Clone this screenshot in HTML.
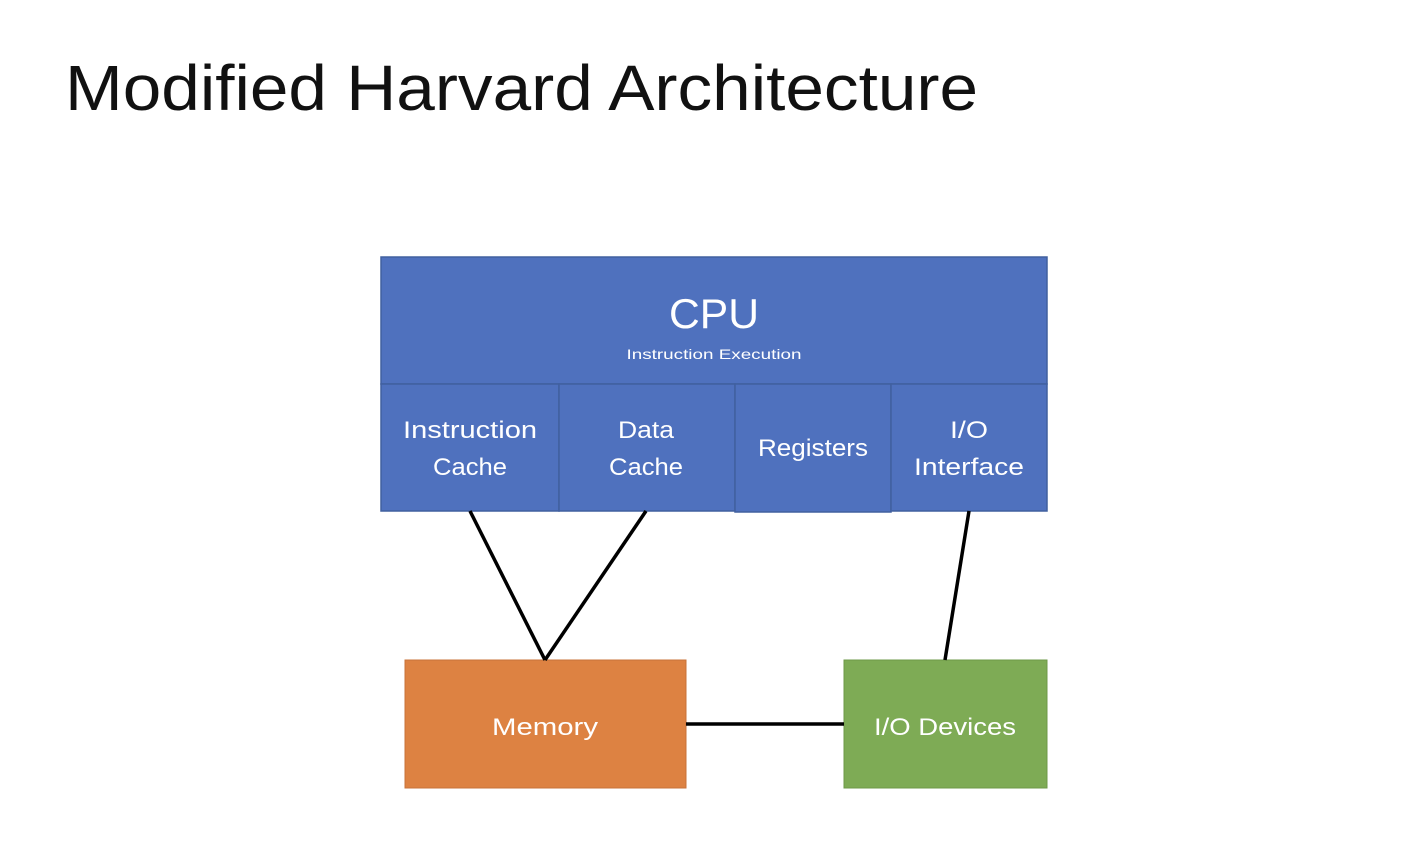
<!DOCTYPE html>
<html><head><style>
html,body{margin:0;padding:0;background:#fff;}
svg{display:block;}
text{font-family:"Liberation Sans",sans-serif;fill:#fff;}
</style></head><body>
<svg width="1416" height="846" viewBox="0 0 1416 846">
<text x="65" y="110" style="fill:#111" font-size="64" textLength="913" lengthAdjust="spacingAndGlyphs">Modified Harvard Architecture</text>
<g stroke="#41609f" stroke-width="1.5" fill="#4f71be">
<rect x="381" y="257" width="666" height="127"/>
<rect x="381" y="384" width="178" height="127"/>
<rect x="559" y="384" width="176" height="127"/>
<rect x="735" y="384" width="156" height="128"/>
<rect x="891" y="384" width="156" height="127"/>
</g>
<rect x="405" y="660" width="281" height="128" fill="#dd8242" stroke="#c8733a"/>
<rect x="844" y="660" width="203" height="128" fill="#7eab55" stroke="#6e9848"/>
<g stroke="#000" stroke-width="3.5" fill="none">
<line x1="470" y1="511" x2="545" y2="660"/>
<line x1="646" y1="511" x2="545" y2="660"/>
<line x1="969" y1="511" x2="945" y2="660"/>
<line x1="686" y1="724" x2="844" y2="724"/>
</g>
<text x="714" y="328" font-size="42" text-anchor="middle" textLength="90" lengthAdjust="spacingAndGlyphs">CPU</text>
<text x="714" y="359" font-size="14" text-anchor="middle" textLength="175" lengthAdjust="spacingAndGlyphs">Instruction Execution</text>
<g font-size="24" text-anchor="middle">
<text x="470" y="438" textLength="134" lengthAdjust="spacingAndGlyphs">Instruction</text>
<text x="470" y="475" textLength="74" lengthAdjust="spacingAndGlyphs">Cache</text>
<text x="646" y="438" textLength="56" lengthAdjust="spacingAndGlyphs">Data</text>
<text x="646" y="475" textLength="74" lengthAdjust="spacingAndGlyphs">Cache</text>
<text x="813" y="456" textLength="110" lengthAdjust="spacingAndGlyphs">Registers</text>
<text x="969" y="438" textLength="38" lengthAdjust="spacingAndGlyphs">I/O</text>
<text x="969" y="475" textLength="110" lengthAdjust="spacingAndGlyphs">Interface</text>
<text x="545" y="735" textLength="106" lengthAdjust="spacingAndGlyphs">Memory</text>
<text x="945" y="735" textLength="142" lengthAdjust="spacingAndGlyphs">I/O Devices</text>
</g>
</svg>
</body></html>
